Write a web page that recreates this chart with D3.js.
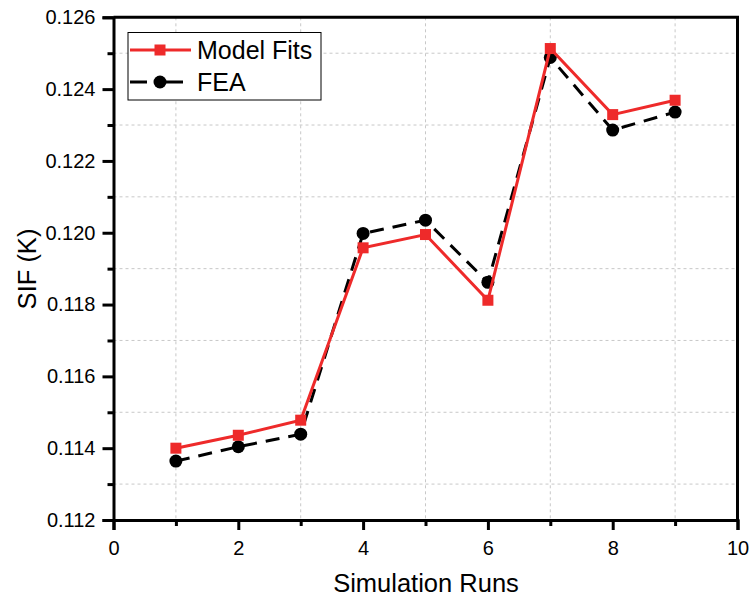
<!DOCTYPE html>
<html>
<head>
<meta charset="utf-8">
<script src="https://cdn.jsdelivr.net/npm/d3@7"></script>
<style>
  body { margin: 0; background: #fff; }
  text { font-family: "Liberation Sans", Arial, sans-serif; fill: #000; }
</style>
</head>
<body>
<script>
var runs = [1, 2, 3, 4, 5, 6, 7, 8, 9];
var modelFits = [0.11400, 0.11436, 0.11478, 0.11958, 0.11995, 0.11812, 0.12513, 0.12329, 0.12369];
var fea = [0.11364, 0.11404, 0.11439, 0.11998, 0.12035, 0.11862, 0.12488, 0.12286, 0.12336];
var xTicks = [0, 2, 4, 6, 8, 10];
var xMinor = [1, 3, 5, 7, 9];
var yTicks = [0.112, 0.114, 0.116, 0.118, 0.120, 0.122, 0.124, 0.126];
var yMinor = [0.113, 0.115, 0.117, 0.119, 0.121, 0.123, 0.125];

var W = 751, H = 599,
    pLeft = 113.5, pRight = 737.5, pTop = 17.3, pBottom = 520;

var x = d3.scaleLinear().domain([0, 10]).range([pLeft, pRight]),
    y = d3.scaleLinear().domain([0.112, 0.126]).range([pBottom, pTop]);

var svg = d3.select("body").append("svg")
    .attr("width", W)
    .attr("height", H);

// grid at minor positions
svg.append("g").selectAll("line")
    .data(xMinor)
  .enter().append("line")
    .attr("x1", function(d) { return x(d); })
    .attr("x2", function(d) { return x(d); })
    .attr("y1", pTop).attr("y2", pBottom)
    .attr("stroke", "#c8c8c8").attr("stroke-width", 1)
    .attr("stroke-dasharray", "3,3");
svg.append("g").selectAll("line")
    .data(yMinor)
  .enter().append("line")
    .attr("y1", function(d) { return y(d); })
    .attr("y2", function(d) { return y(d); })
    .attr("x1", pLeft).attr("x2", pRight)
    .attr("stroke", "#c8c8c8").attr("stroke-width", 1)
    .attr("stroke-dasharray", "3,3");

// frame top/right
svg.append("path")
    .attr("d", "M" + pLeft + "," + pTop + "H" + pRight + "V" + pBottom)
    .attr("fill", "none").attr("stroke", "#000").attr("stroke-width", 3);

// x axis
svg.append("g")
    .attr("transform", "translate(0," + pBottom + ")")
    .call(d3.axisBottom(x).tickValues(xTicks).tickSize(10).tickPadding(11).tickFormat(d3.format("d")));
svg.append("g")
    .attr("transform", "translate(0," + pBottom + ")")
    .call(d3.axisBottom(x).tickValues(xMinor).tickSize(6).tickFormat(""))
    .select(".domain").remove();

// y axis
svg.append("g")
    .attr("transform", "translate(" + pLeft + ",0)")
    .call(d3.axisLeft(y).tickValues(yTicks).tickSize(11).tickPadding(7).tickFormat(d3.format(".3f")));
svg.append("g")
    .attr("transform", "translate(" + pLeft + ",0)")
    .call(d3.axisLeft(y).tickValues(yMinor).tickSize(6).tickFormat(""))
    .select(".domain").remove();

svg.selectAll(".domain").attr("stroke-width", 3).attr("stroke", "#000");
svg.selectAll(".tick line").attr("stroke-width", 3).attr("stroke", "#000");
svg.selectAll(".tick text")
    .style("font-family", "'Liberation Sans', Arial, sans-serif")
    .style("font-size", "20px");

// axis titles
svg.append("text")
    .attr("x", 426)
    .attr("y", 592)
    .attr("text-anchor", "middle")
    .style("font-size", "25.5px")
    .text("Simulation Runs");
svg.append("text")
    .attr("transform", "translate(36,269) rotate(-90)")
    .attr("text-anchor", "middle")
    .style("font-size", "25.5px")
    .text("SIF (K)");

var line = function(vals) {
  return d3.line()
    .x(function(d, i) { return x(runs[i]); })
    .y(function(d) { return y(d); })(vals);
};

// FEA (dashed black, circles)
svg.append("path")
    .attr("d", line(fea))
    .attr("fill", "none")
    .attr("stroke", "#000")
    .attr("stroke-width", 3)
    .attr("stroke-dasharray", "14,9");
svg.append("g").selectAll("circle")
    .data(fea)
  .enter().append("circle")
    .attr("cx", function(d, i) { return x(runs[i]); })
    .attr("cy", function(d) { return y(d); })
    .attr("r", 6.5)
    .attr("fill", "#000");

// Model fits (red, squares)
var red = "#ee2a2a";
svg.append("path")
    .attr("d", line(modelFits))
    .attr("fill", "none")
    .attr("stroke", red)
    .attr("stroke-width", 3);
svg.append("g").selectAll("rect")
    .data(modelFits)
  .enter().append("rect")
    .attr("x", function(d, i) { return x(runs[i]) - 5.5; })
    .attr("y", function(d) { return y(d) - 5.5; })
    .attr("width", 11)
    .attr("height", 11)
    .attr("fill", red);

// legend
var lg = svg.append("g");
lg.append("rect")
    .attr("x", 128).attr("y", 32.5)
    .attr("width", 193).attr("height", 67.5)
    .attr("fill", "#fff").attr("stroke", "#000").attr("stroke-width", 1);
lg.append("line")
    .attr("x1", 130).attr("x2", 191).attr("y1", 50).attr("y2", 50)
    .attr("stroke", red).attr("stroke-width", 3);
lg.append("rect")
    .attr("x", 154.5).attr("y", 44.5).attr("width", 11).attr("height", 11)
    .attr("fill", red);
lg.append("line")
    .attr("x1", 130).attr("x2", 183).attr("y1", 82).attr("y2", 82)
    .attr("stroke", "#000").attr("stroke-width", 3)
    .attr("stroke-dasharray", "17,19");
lg.append("circle")
    .attr("cx", 160).attr("cy", 82).attr("r", 6.5).attr("fill", "#000");
lg.append("text")
    .attr("x", 197).attr("y", 58.5)
    .style("font-size", "25px")
    .text("Model Fits");
lg.append("text")
    .attr("x", 197).attr("y", 91)
    .style("font-size", "25px")
    .text("FEA");
</script>
</body>
</html>
